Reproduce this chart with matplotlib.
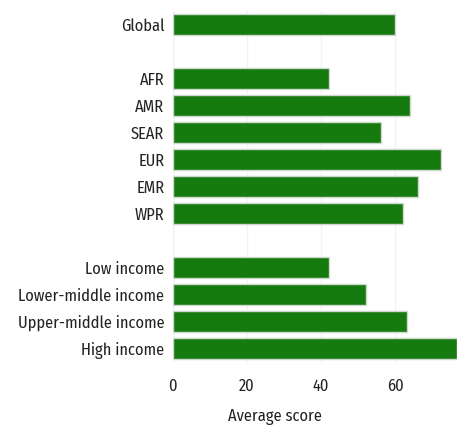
import matplotlib
matplotlib.use("Agg")
import matplotlib.pyplot as plt

plt.rcParams['font.family'] = ['Fira Sans Condensed', 'DejaVu Sans']

categories = ["Global", "AFR", "AMR", "SEAR", "EUR", "EMR", "WPR",
              "Low income", "Lower-middle income", "Upper-middle income", "High income"]
values = [60, 42, 64, 56, 72.3, 66, 62, 42, 52.2, 63, 76.6]
positions = [0, 2, 3, 4, 5, 6, 7, 9, 10, 11, 12]
xticks = [0, 20, 40, 60]

fig = plt.figure(figsize=(4.58, 4.29), dpi=100)
ax = fig.add_axes([0.377, 0.156, 0.621, 0.818])
ax.barh(positions, values, height=0.76, color='#167B0E', edgecolor='#cfd8cf', linewidth=1, zorder=3)
ax.set_yticks(positions)
ax.set_yticklabels(categories, fontsize=11.8, color='#222222')
ax.set_ylim(12.5, -0.5)
ax.set_xlim(0, 76.6)
ax.set_xticks(xticks)
ax.set_xticklabels([str(t) for t in xticks], fontsize=11.8, color='#222222')
ax.tick_params(axis='y', length=0, pad=6)
ax.tick_params(axis='x', length=0, pad=12)
for s in ax.spines.values():
    s.set_visible(False)
ax.axvline(0, color='#eeeeee', lw=1, zorder=1)
ax.grid(axis='x', color='#f2f2f2', lw=1, zorder=0)
ax.set_xlabel("Average score", fontsize=11.8, color='#222222')
ax.xaxis.set_label_coords(0.36, -0.135)
fig.savefig("out.png", dpi=100)
